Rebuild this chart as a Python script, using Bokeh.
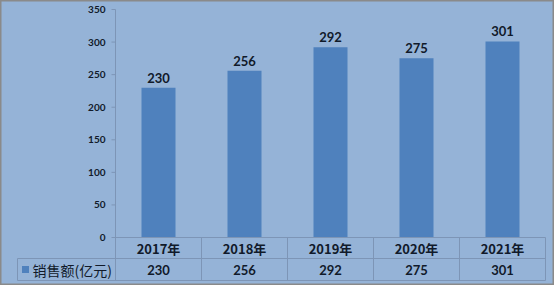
from bokeh.plotting import figure
from bokeh.models import ColumnDataSource, Range1d
from bokeh.core.properties import value
from bokeh.embed import file_html
from bokeh.resources import INLINE

# ---- data ----
categories = ["2017年", "2018年", "2019年", "2020年", "2021年"]
sales = [230, 256, 292, 275, 301]
series_name = "销售额(亿元)"
y_ticks = [0, 50, 100, 150, 200, 250, 300, 350]

# ---- layout (pixels) ----
W, H = 554, 285
AX_X = 115          # y axis pixel x
CAT_W = 86          # pixels per category
Y0_PX = 237         # pixel y of value 0
PX_PER_UNIT = 228 / 350.0
TABLE_LEFT_PX = 17
ROW1_BOTTOM_PX = 258
ROW2_BOTTOM_PX = 280

def xu(px):
    return (px - AX_X) / CAT_W

def yu(py):
    return (Y0_PX - py) / PX_PER_UNIT

BG = "#95b3d7"
BAR = "#4f81bd"
TXT = "#111a2a"
GRID = "#7d95b6"
LATIN = "Lato"
CJK = "Noto Sans CJK SC"

p = figure(width=W, height=H, output_backend="svg", toolbar_location=None,
           x_range=Range1d(xu(0), xu(W)), y_range=Range1d(yu(H), yu(0)),
           min_border=0, background_fill_color=BG, border_fill_color=BG)
p.axis.visible = False
p.grid.visible = False
p.outline_line_color = "#8a8a8a"
p.outline_line_width = 2

n = len(categories)
xs = [i + 0.5 for i in range(n)]
src = ColumnDataSource(dict(x=xs, top=sales, cat=categories,
                            lbl=[str(v) for v in sales]))

# bars
p.vbar(x="x", top="top", bottom=0, width=34 / CAT_W, source=src,
       fill_color=BAR, line_color=None)

# value labels above bars
p.text(x="x", y="top", text="lbl", source=src, text_align="center",
       text_baseline="bottom", y_offset=-5, text_font=value(LATIN),
       text_font_style="bold", text_font_size="13px", text_color=TXT)

# y axis line and ticks
p.segment(x0=[0], y0=[yu(ROW2_BOTTOM_PX)], x1=[0], y1=[max(y_ticks)],
          line_color=GRID, line_width=1)
tsrc = ColumnDataSource(dict(y=y_ticks, x0=[xu(AX_X - 4)] * len(y_ticks),
                             x1=[0] * len(y_ticks), t=[str(t) for t in y_ticks]))
p.segment(x0="x0", y0="y", x1="x1", y1="y", source=tsrc, line_color=GRID)
p.text(x="x0", y="y", text="t", source=tsrc, x_offset=-6, text_align="right",
       text_baseline="middle", text_font=value(LATIN), text_font_style="bold",
       text_font_size="10px", text_color=TXT)

# data table
right = n
p.segment(x0=[0, xu(TABLE_LEFT_PX), xu(TABLE_LEFT_PX)],
          y0=[0, yu(ROW1_BOTTOM_PX), yu(ROW2_BOTTOM_PX)],
          x1=[right, right, right],
          y1=[0, yu(ROW1_BOTTOM_PX), yu(ROW2_BOTTOM_PX)],
          line_color=GRID, line_width=1)
vx = [xu(TABLE_LEFT_PX)] + [i + 1 for i in range(n)]
vy0 = [yu(ROW1_BOTTOM_PX)] + [0] * n
p.segment(x0=vx, y0=vy0, x1=vx, y1=[yu(ROW2_BOTTOM_PX)] * len(vx),
          line_color=GRID, line_width=1)

row1_y = yu((Y0_PX + ROW1_BOTTOM_PX) / 2)
row2_y = yu((ROW1_BOTTOM_PX + ROW2_BOTTOM_PX) / 2)
csrc = ColumnDataSource(dict(x=xs, y1=[row1_y] * n, y2=[row2_y] * n,
                             cat=categories, lbl=[str(v) for v in sales]))
p.text(x="x", y="y1", text="cat", source=csrc, text_align="center",
       text_baseline="middle", text_font=value(CJK), text_font_style="bold",
       text_font_size="13px", text_color=TXT)
p.text(x="x", y="y2", text="lbl", source=csrc, text_align="center",
       text_baseline="middle", text_font=value(LATIN), text_font_style="bold",
       text_font_size="13px", text_color=TXT)

# legend key + series name
p.rect(x=[xu(25)], y=[row2_y], width=7 / CAT_W, height=7 / PX_PER_UNIT,
       fill_color=BAR, line_color=None)
p.text(x=[xu(32)], y=[row2_y], text=[series_name], text_align="left",
       text_baseline="middle", text_font=value(CJK), text_font_style="normal",
       text_font_size="14px", text_color=TXT)

open("out.html", "w").write(file_html(p, INLINE))
